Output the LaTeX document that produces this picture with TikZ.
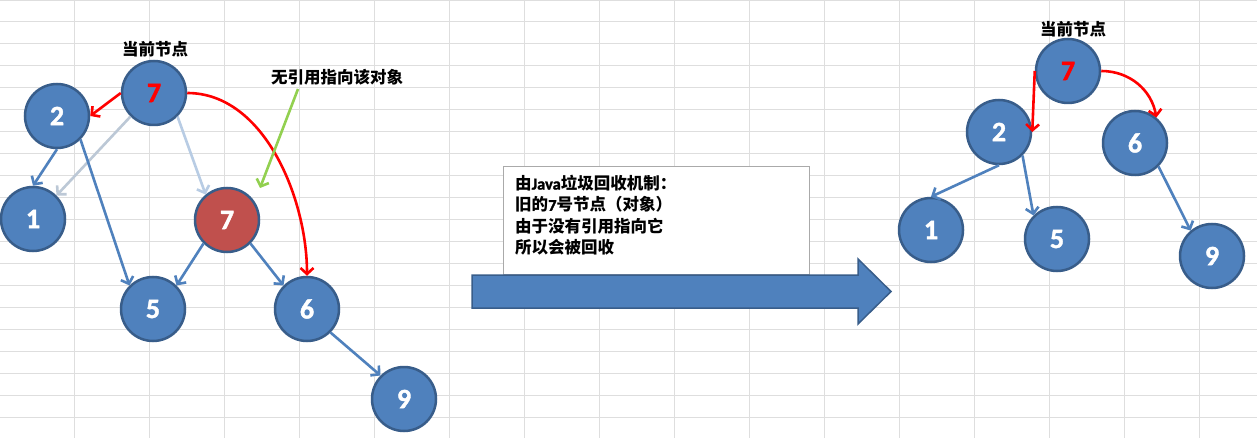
\documentclass[tikz,border=0pt]{standalone}
\usepackage{fontspec}
\newfontfamily\cjk{Noto Sans CJK SC}
\newfontfamily\numf{Carlito}[BoldFont={Carlito Bold}, BoldFeatures={FakeBold=1.5}]
\usetikzlibrary{arrows.meta}
\definecolor{nodefill}{HTML}{4F81BD}
\definecolor{nodeborder}{HTML}{385D8A}
\definecolor{rednode}{HTML}{C0504D}
\definecolor{edgeblue}{HTML}{4F81BD}
\definecolor{edgegray}{HTML}{BCC8D6}
\definecolor{edgepale}{HTML}{B8CCE4}
\definecolor{gridc}{HTML}{DEDEDE}
\definecolor{boxgray}{HTML}{AAAAAA}
\definecolor{greenc}{HTML}{92D050}
\definecolor{redc}{HTML}{FF0000}
\tikzset{
  tn/.style={circle, draw=nodeborder, fill=nodefill, line width=2.5pt, minimum size=64pt, inner sep=0pt,
    text=white, font=\numf\bfseries\fontsize{28}{28}\selectfont},
  rn/.style={tn, fill=rednode},
  lab/.style={inner sep=0pt, font=\cjk\bfseries\fontsize{16.5}{18}\selectfont},
  tipstyle/.style={-{Straight Barb[length=6pt,width=13pt]}},
  be/.style={draw=edgeblue, line width=2.6pt, tipstyle},
  grayarrow/.style={draw=edgegray, line width=2.6pt, tipstyle},
  palearrow/.style={draw=edgepale, line width=2.6pt, tipstyle},
  redarrow/.style={draw=redc, line width=2.6pt, tipstyle},
  greenarrow/.style={draw=greenc, line width=2.6pt, tipstyle},
  gridline/.style={draw=gridc, line width=0.9pt},
}
\begin{document}
\begin{tikzpicture}[x=1pt,y=-1pt]
\useasboundingbox (0,0) rectangle (1257,438);
\fill[white] (0,0) rectangle (1257,438);
% grid
\foreach \k in {0,...,15} \draw[gridline] (74+75*\k,0) -- (74+75*\k,438);
\foreach \k in {0,...,19} \draw[gridline] (0,21.95*\k) -- (1257,21.95*\k);

% text box
\node[draw=boxgray, fill=white, line width=1pt, minimum width=306pt, minimum height=108pt, inner sep=0pt, anchor=north west] (box) at (503,166) {};
\node[anchor=north west, align=left, inner sep=0pt, font=\cjk\bfseries\fontsize{16.5}{21.3}\selectfont] (boxtxt) at (515,175)
  {由{\numf\bfseries Java}垃圾回收机制：\\旧的{\numf\bfseries 7}号节点（对象）\\由于没有引用指向它\\所以会被回收};

% big arrow
\draw[fill=nodefill, draw=nodeborder, line width=1.5pt, line join=miter]
  (472,275) -- (858,275) -- (858,259) -- (891,291.5) -- (858,324) -- (858,308) -- (472,308) -- cycle;

% left tree
\node[tn, text=redc] (lt7) at (154,93) {7};
\node[tn] (l2) at (57,116) {2};
\node[tn] (l1) at (33,219) {1};
\node[rn] (lr7) at (227,220) {7};
\node[tn] (l5) at (153,309) {5};
\node[tn] (l6) at (307,309) {6};
\node[tn] (l9) at (404,399) {9};
\node[lab] (lcur) at (155,49) {当前节点};
\node[lab] (lno) at (337,77) {无引用指向该对象};
\coordinate (gs) at (298,89);
\coordinate (gt) at (260,188);

\draw[grayarrow] (lt7.225) -- (l1.45);
\draw[palearrow] (lt7.-45) -- (lr7.130);
\draw[be] (l2.south) -- (l1.north);
\draw[be] (l2.-45) -- (l5.135);
\draw[be] (lr7.225) -- (l5.45);
\draw[be] (lr7.-45) -- (l6.135);
\draw[be] (l6.-45) -- (l9.135);
\draw[redarrow] (lt7.west) -- (l2.east);
\draw[redarrow] (lt7.east) to[out=0,in=90,looseness=0.9] (l6.north);
\draw[greenarrow] (gs) -- (gt);

% right tree
\node[tn, text=redc] (rt7) at (1068,71) {7};
\node[tn] (r2) at (999,132) {2};
\node[tn] (r6) at (1135,143) {6};
\node[tn] (r1) at (931,230) {1};
\node[tn] (r5) at (1057,239) {5};
\node[tn] (r9) at (1212,256) {9};
\node[lab] (rcur) at (1073,29) {当前节点};

\draw[be] (r2.south) -- (r1.north);
\draw[be] (r2.-45) -- (r5.135);
\draw[be] (r6.-45) -- (r9.130);
\draw[redarrow] (rt7.west) -- (r2.east);
\draw[redarrow] (rt7.east) to[out=0,in=100] (r6.50);
\end{tikzpicture}
\end{document}
